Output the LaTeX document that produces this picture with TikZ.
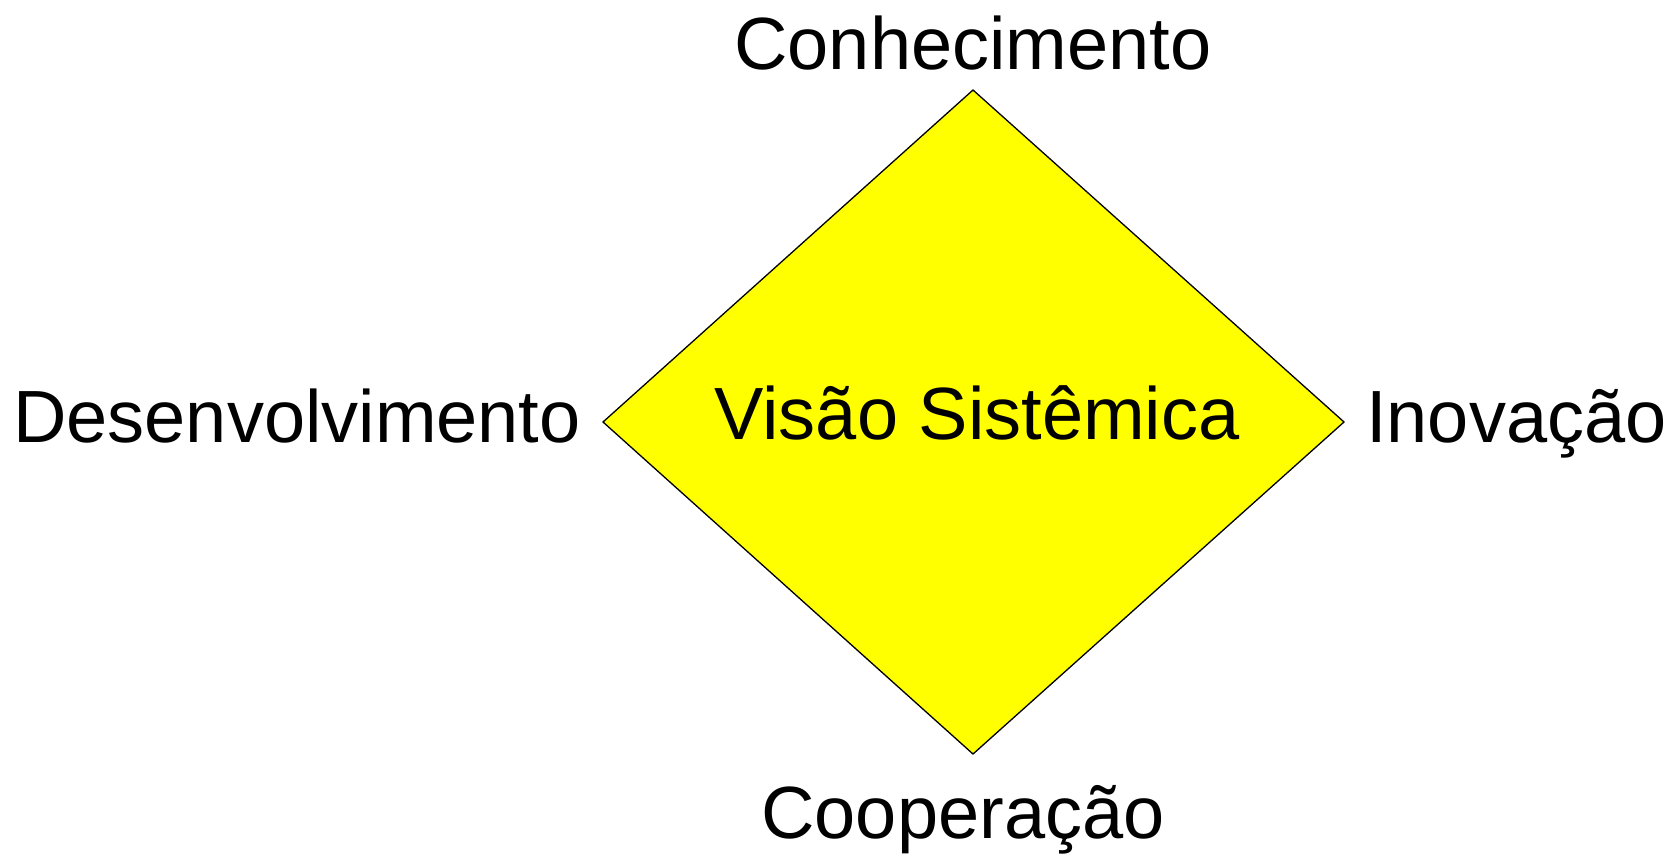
\documentclass[tikz,border=0pt]{standalone}
\usepackage{fontspec}
\setmainfont{Liberation Sans}
\definecolor{ylw}{RGB}{255,255,0}
\begin{document}
\begin{tikzpicture}[x=1pt,y=-1pt,
  lbl/.style={inner sep=0pt,font=\fontsize{74}{80}\selectfont,text=black},
  dia/.style={draw=black,fill=ylw,line width=1.3pt,line join=miter}]
\useasboundingbox (0,0) rectangle (1680,857);
\coordinate (T) at (973,90);
\coordinate (L) at (603,422);
\coordinate (R) at (1344,422);
\coordinate (B) at (973,754);
\path[dia] (T) -- (R) -- (B) -- (L) -- cycle;
\node[lbl,anchor=base] (vis) at (977,439) {Visão Sistêmica};
\node[lbl,anchor=base] (con) at (973,69) {Conhecimento};
\node[lbl,anchor=base east] (des) at (581,442) {Desenvolvimento};
\node[lbl,anchor=base west] (ino) at (1366,442) {Inovação};
\node[lbl,anchor=base] (coo) at (963,838) {Cooperação};
\end{tikzpicture}
\end{document}
